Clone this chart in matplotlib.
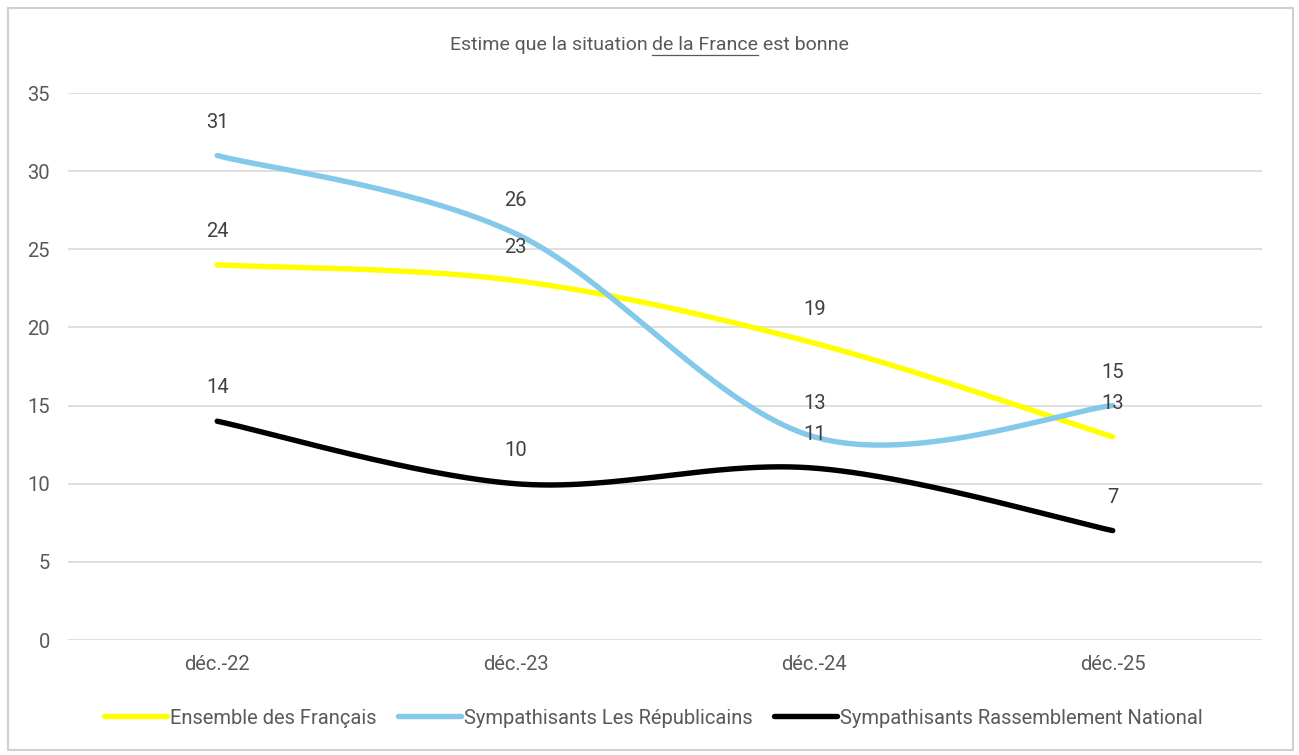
import numpy as np
import matplotlib
matplotlib.use("Agg")
import matplotlib.pyplot as plt
from matplotlib.patches import Rectangle

plt.rcParams['font.family'] = ['Roboto', 'DejaVu Sans']

categories = ['déc.-22', 'déc.-23', 'déc.-24', 'déc.-25']
ensemble = [24, 23, 19, 13]
republicains = [31, 26, 13, 15]
rassemblement = [14, 10, 11, 7]

series = [
    ('Ensemble des Français', ensemble, '#FFFF00'),
    ('Sympathisants Les Républicains', republicains, '#84C9E9'),
    ('Sympathisants Rassemblement National', rassemblement, '#000000'),
]

TXT = '#595959'
GRID = '#D9D9D9'
FS = 14.5
TFS = 14


def smooth(xs, ys, n=60):
    # Catmull-Rom style bezier smoothing, like Excel "smoothed line"
    pts = np.column_stack([xs, ys]).astype(float)
    ext = np.vstack([pts[0], pts, pts[-1]])
    out = []
    t = np.linspace(0, 1, n)[:, None]
    for i in range(len(pts) - 1):
        p0, p1, p2, p3 = ext[i], ext[i + 1], ext[i + 2], ext[i + 3]
        c1 = p1 + (p2 - p0) / 6
        c2 = p2 - (p3 - p1) / 6
        seg = ((1 - t) ** 3) * p1 + 3 * ((1 - t) ** 2) * t * c1 \
            + 3 * (1 - t) * t ** 2 * c2 + t ** 3 * p2
        out.append(seg if i == 0 else seg[1:])
    seg = np.vstack(out)
    return seg[:, 0], seg[:, 1]


fig = plt.figure(figsize=(12.99, 7.55), dpi=100)
ax = fig.add_axes([0.0523, 0.1523, 0.9192, 0.7245])

x = np.arange(len(categories))
for name, vals, col in series:
    sx, sy = smooth(x, vals)
    ax.plot(sx, sy, color=col, lw=3.9, solid_capstyle='round', label=name, zorder=3)
    for xi, v in zip(x, vals):
        ax.annotate(str(v), (xi, v), xytext=(0, 24), textcoords='offset points',
                    ha='center', va='center', fontsize=FS, color='#404040', zorder=4)

ax.set_xlim(-0.5, len(categories) - 0.5)
ax.set_ylim(0, 35)
ax.set_yticks(range(0, 36, 5))
ax.set_xticks(x)
ax.set_xticklabels(categories)
ax.grid(axis='y', color=GRID, lw=1.2)
ax.set_axisbelow(True)
for s in ax.spines.values():
    s.set_visible(False)
ax.tick_params(axis='both', length=0, labelsize=FS, colors=TXT)
ax.tick_params(axis='y', pad=13)
ax.tick_params(axis='x', pad=11)

leg = fig.legend(loc='center', bbox_to_anchor=(0.503, 0.049), ncol=3, frameon=False,
                 fontsize=FS, handlelength=3.1, handletextpad=0.15, columnspacing=1.1)
for t in leg.get_texts():
    t.set_color(TXT)

# title with underlined part
parts = ['Estime que la situation ', 'de la France', ' est bonne']
ty = 1 - 45 / 755
fig.canvas.draw()
r = fig.canvas.get_renderer()
probe = [fig.text(0, 0, p, fontsize=TFS) for p in parts]
widths = [pr.get_window_extent(r).width for pr in probe]
full = fig.text(0, 0, ''.join(parts), fontsize=TFS)
fw = full.get_window_extent(r).width
for pr in probe:
    pr.remove()
full.remove()
W = fig.bbox.width
x0 = 0.5 - fw / 2 / W
fig.text(x0, ty, parts[0], fontsize=TFS, color=TXT, va='center', ha='left')
x1 = x0 + (fw - widths[1] - widths[2]) / W
fig.text(x1, ty, parts[1], fontsize=TFS, color=TXT, va='center', ha='left')
fig.text(x1 + widths[1] / W, ty, parts[2], fontsize=TFS, color=TXT, va='center', ha='left')
uy = ty - 10 / 755
fig.add_artist(plt.Line2D([x1, x1 + widths[1] / W], [uy, uy], color=TXT, lw=0.9,
                          transform=fig.transFigure))

fig.add_artist(Rectangle((8 / 1299, 5 / 755), 1285 / 1299, 742 / 755, fill=False,
                         edgecolor='#D0D0D0', lw=1.5, transform=fig.transFigure))

fig.savefig('out.png', dpi=100)
